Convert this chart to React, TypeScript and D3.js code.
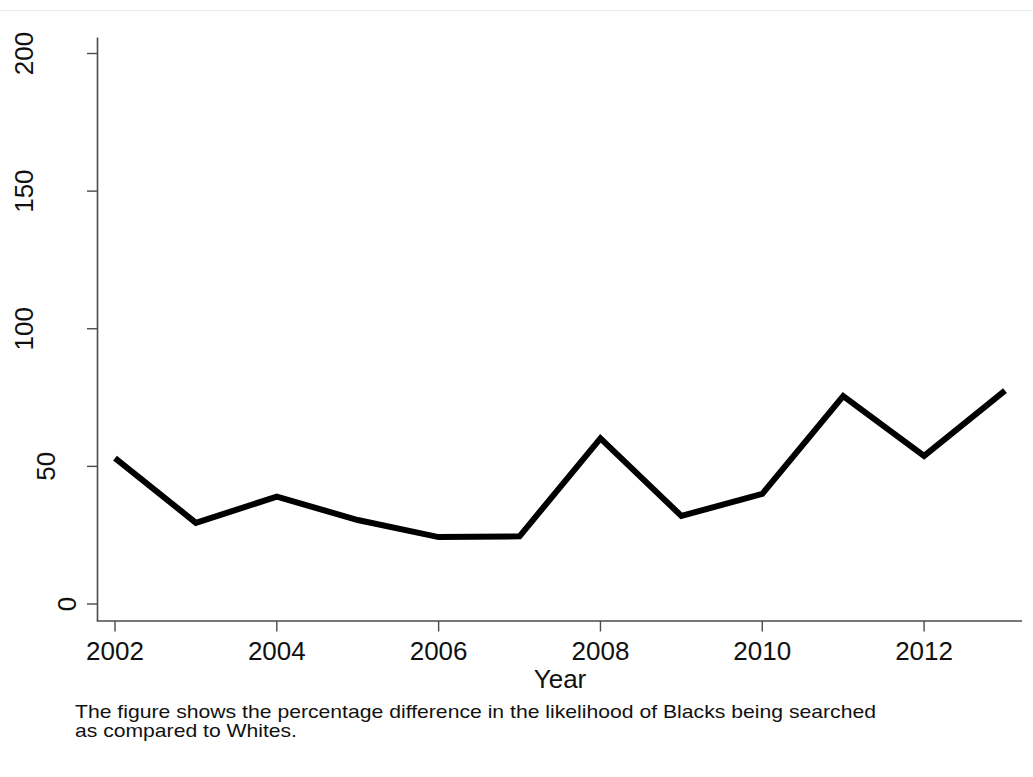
import React from "react";
import * as d3 from "d3";

const years = [2002, 2003, 2004, 2005, 2006, 2007, 2008, 2009, 2010, 2011, 2012, 2013];
const values = [53, 29.5, 39, 30.5, 24.3, 24.6, 60.2, 32, 40, 75.5, 53.8, 77.5];
const xTicks = [2002, 2004, 2006, 2008, 2010, 2012];
const yTicks = [0, 50, 100, 150, 200];
const xTitle = "Year";
const captionLines = [
  "The figure shows the percentage difference in the likelihood of Blacks being searched",
  "as compared to Whites.",
];

export default function App() {
  const W = 1033, H = 777;
  const x = d3.scaleLinear().domain([2002, 2013]).range([115, 1005]);
  const y = d3.scaleLinear().domain([0, 200]).range([604, 53.5]);
  const axisX = 97.5;
  const axisY = 621;
  const data = years.map((yr, i) => ({ yr, v: values[i] }));
  const line = d3.line<{ yr: number; v: number }>().x(d => x(d.yr)).y(d => y(d.v));
  const font = "'Liberation Sans', Arial, Helvetica, sans-serif";
  const axisColor = "#4a4a4a";
  return (
    <svg width={W} height={H} style={{ position: "absolute", left: 0, top: 0, background: "#fff" }} fontFamily={font}>
      <rect x={0} y={0} width={W} height={H} fill="#fff" />
      <line x1={0} x2={W} y1={10.5} y2={10.5} stroke="#e6ecef" strokeWidth={1} />
      {/* y axis */}
      <line x1={axisX} x2={axisX} y1={37.5} y2={axisY} stroke={axisColor} strokeWidth={1.6} />
      {yTicks.map(t => {
        const lab = String(t);
        const bx = 76 - (lab.length - 1) * 21.5;
        return (
          <g key={t}>
            <line x1={87} x2={axisX} y1={y(t)} y2={y(t)} stroke={axisColor} strokeWidth={1.4} />
            <text transform={`translate(${bx},${y(t)}) rotate(-90)`} textAnchor="middle" fontSize={26} fill="#111">
              {lab}
            </text>
          </g>
        );
      })}
      {/* x axis */}
      <line x1={axisX - 0.8} x2={1022} y1={axisY} y2={axisY} stroke={axisColor} strokeWidth={1.6} />
      {xTicks.map(t => (
        <g key={t}>
          <line x1={x(t)} x2={x(t)} y1={axisY} y2={631.5} stroke={axisColor} strokeWidth={1.4} />
          <text x={x(t)} y={660} textAnchor="middle" fontSize={26} fill="#111">{t}</text>
        </g>
      ))}
      <text x={560} y={688} textAnchor="middle" fontSize={26} fill="#111">{xTitle}</text>
      {/* data line */}
      <path d={line(data) || ""} fill="none" stroke="#000" strokeWidth={6} strokeLinejoin="miter" />
      {/* caption */}
      <text x={75} y={718} fontSize={19} fill="#111" textLength={801} lengthAdjust="spacingAndGlyphs">{captionLines[0]}</text>
      <text x={75} y={737} fontSize={19} fill="#111" textLength={222} lengthAdjust="spacingAndGlyphs">{captionLines[1]}</text>
    </svg>
  );
}
